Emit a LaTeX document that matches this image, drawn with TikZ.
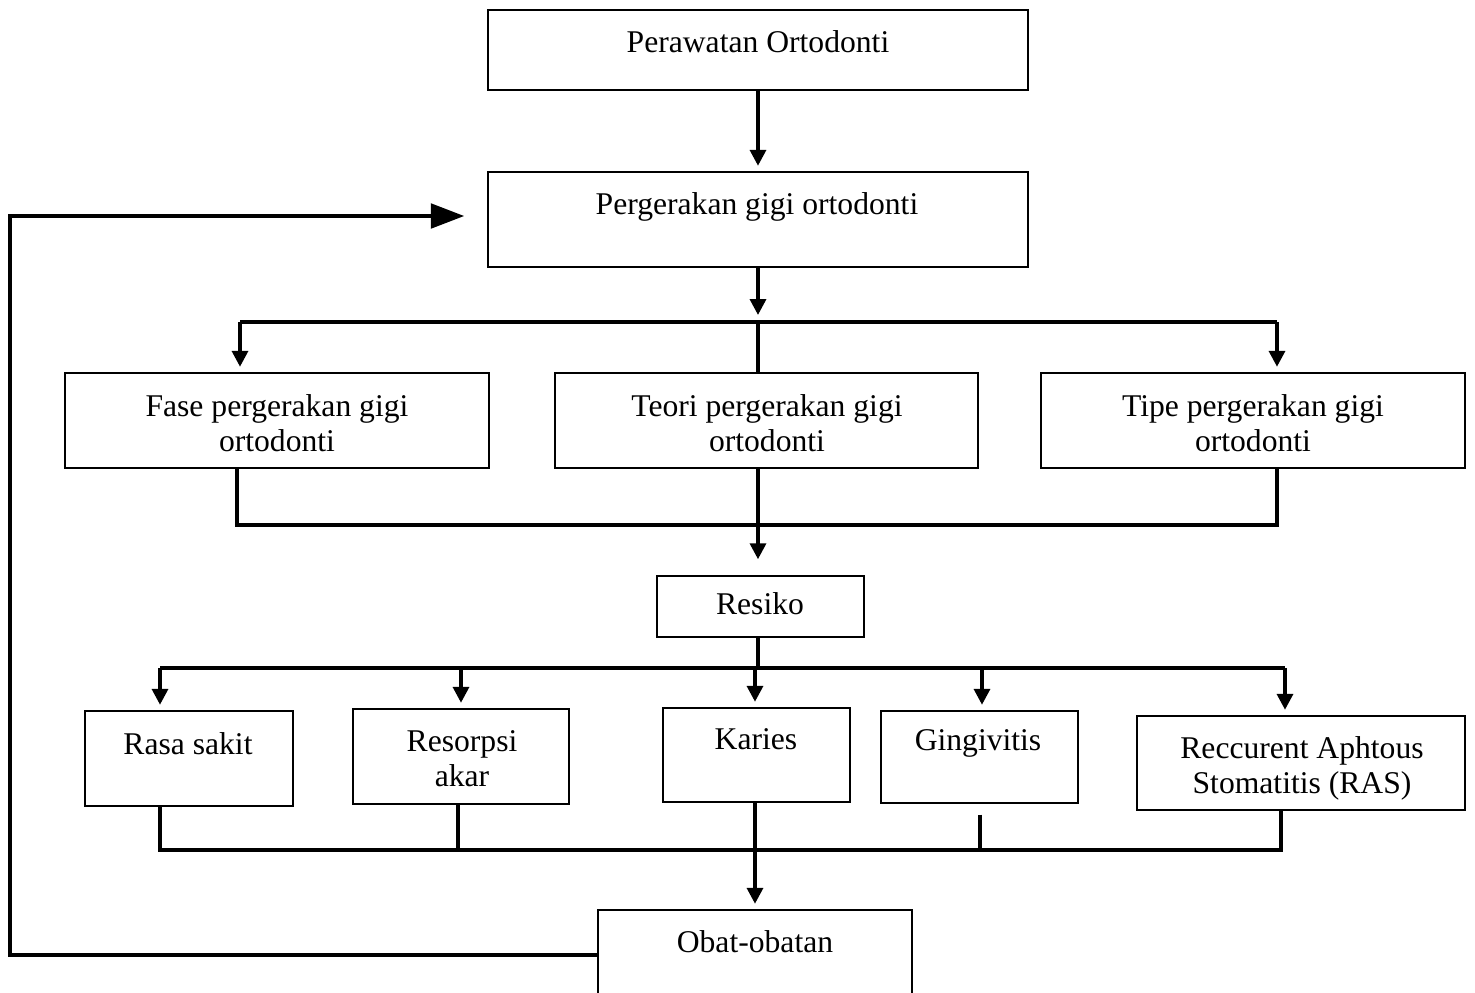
\documentclass[tikz,border=0pt]{standalone}
\usepackage{fontspec}
\setmainfont{Liberation Serif}
\usetikzlibrary{arrows.meta}
\tikzset{>={Triangle[length=9pt,width=9pt]}}
\tikzset{
  box/.style={draw, line width=1.1pt, inner sep=0pt},
  sz/.style 2 args={minimum width=#1*0.02cm, minimum height=#2*0.02cm},
  lbl/.style={inner sep=0pt, anchor=base, align=center, font=\fontsize{18}{19.5}\selectfont},
  conn/.style={line width=2pt},
  arr/.style={conn, ->, shorten >=3pt},
  bigarr/.style={conn, -{Triangle[length=19pt,width=14pt]}, shorten >=13pt},
}

\begin{document}
\begin{tikzpicture}[x=0.02cm, y=-0.02cm]
  \useasboundingbox (0,0) rectangle (1475,992);
  % Boxes
  \node[box, sz={540}{80}] (ort) at (758,50) {};
  \node[box, sz={540}{95}] (perg) at (758,219.5) {};
  \node[box, sz={424}{95}] (fase) at (277,420.5) {};
  \node[box, sz={423}{95}] (teori) at (766.5,420.5) {};
  \node[box, sz={424}{95}] (tipe) at (1253,420.5) {};
  \node[box, sz={207}{61}] (resiko) at (760.5,606.5) {};
  \node[box, sz={208}{95}] (rasa) at (189,758.5) {};
  \node[box, sz={216}{95}] (reso) at (461,756.5) {};
  \node[box, sz={187}{94}] (karies) at (756.5,755) {};
  \node[box, sz={197}{92}] (ging) at (979.5,757) {};
  \node[box, sz={328}{94}] (ras) at (1301,763) {};
  \node[box, sz={314}{90}] (obat) at (755,955) {};

  % Texts (base = last line)
  \node[lbl] (tort) at (758,52) {Perawatan Ortodonti};
  \node[lbl] (tperg) at (757,214) {Pergerakan gigi ortodonti};
  \node[lbl] (tfase) at (277,451) {Fase pergerakan gigi\\ortodonti};
  \node[lbl] (tteori) at (767,451) {Teori pergerakan gigi\\ortodonti};
  \node[lbl] (ttipe) at (1253,451) {Tipe pergerakan gigi\\ortodonti};
  \node[lbl] (tresiko) at (760,614) {Resiko};
  \node[lbl] (trasa) at (188,754) {Rasa sakit};
  \node[lbl] (treso) at (462,786) {Resorpsi\\akar};
  \node[lbl] (tkaries) at (756,749) {Karies};
  \node[lbl] (tging) at (978,750) {Gingivitis};
  \node[lbl] (tras) at (1302,793) {Reccurent Aphtous\\Stomatitis (RAS)};
  \node[lbl] (tobat) at (755,952) {Obat-obatan};

  % Bus points
  \coordinate (b1l) at (240,322);
  \coordinate (b1) at (758,322);
  \coordinate (b1r) at (1277,322);
  \coordinate (b2l) at (237,525);
  \coordinate (b2) at (758,525);
  \coordinate (b2r) at (1277,525);
  \coordinate (b3) at (758,668);
  \coordinate (b3a) at (160,668);
  \coordinate (b3b) at (461,668);
  \coordinate (b3c) at (755,668);
  \coordinate (b3d) at (982,668);
  \coordinate (b3e) at (1285,668);
  \coordinate (b4a) at (160,850);
  \coordinate (b4b) at (458,850);
  \coordinate (b4c) at (755,850);
  \coordinate (b4d) at (980,850);
  \coordinate (b4e) at (1281,850);
  \coordinate (fb) at (10,216);

  % Lines
  \draw[arr] (ort) -- (perg);
  \draw[arr, shorten >=4pt] (perg) -- (b1);
  \draw[conn] (b1l) -- (b1r);
  \draw[arr] (b1l) -- (b1l |- fase.north);
  \draw[arr] (b1r) -- (b1r |- tipe.north);
  \draw[conn] (b1) -- (b1 |- teori.north);

  \draw[conn] (b2l |- fase.south) -- (b2l) -- (b2r) -- (b2r |- tipe.south);
  \draw[conn] (b2 |- teori.south) -- (b2);
  \draw[arr, shorten >=9pt] (b2) -- (b2 |- resiko.north);

  \draw[conn] (b3 |- resiko.south) -- (b3);
  \draw[conn] (b3a) -- (b3e);
  \draw[arr] (b3a) -- (b3a |- rasa.north);
  \draw[arr] (b3b) -- (b3b |- reso.north);
  \draw[arr] (b3c) -- (b3c |- karies.north);
  \draw[arr] (b3d) -- (b3d |- ging.north);
  \draw[arr] (b3e) -- (b3e |- ras.north);

  \draw[conn] (b4a |- rasa.south) -- (b4a) -- (b4e) -- (b4e |- ras.south);
  \draw[conn] (b4b |- reso.south) -- (b4b);
  \draw[conn] (b4c |- karies.south) -- (b4c);
  \draw[conn] ([yshift=-6pt]b4d |- ging.south) -- (b4d);
  \draw[arr] (b4c) -- (obat);

  % Feedback
  \draw[bigarr] (obat.west) -| (fb) -- (fb -| perg.west);
\end{tikzpicture}
\end{document}
